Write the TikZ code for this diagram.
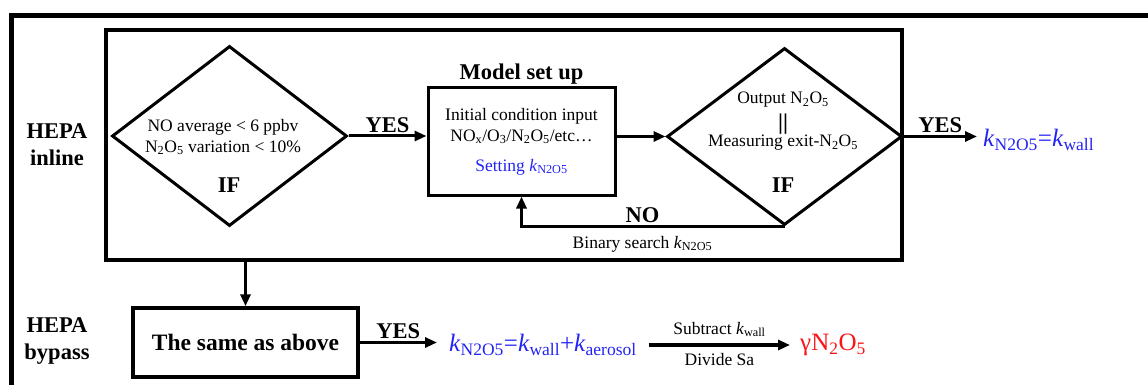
\documentclass[tikz,border=0pt]{standalone}
\usepackage{fontspec}
\setmainfont{Liberation Serif}
\usetikzlibrary{shapes.geometric, positioning, arrows.meta}
\definecolor{kblue}{RGB}{35,35,245}
\definecolor{gred}{RGB}{250,20,20}

\begin{document}
\begin{tikzpicture}[x=1pt, y=-1pt,
  every node/.style={inner sep=2pt},
  box/.style={draw, line width=3pt, inner sep=0pt},
  cond/.style={diamond, draw, line width=3pt, inner sep=0pt,
               minimum width=235pt, minimum height=180pt},
  txt/.style={font=\fontsize{17.5}{21}\selectfont, align=center},
  hd/.style={font=\fontsize{22.5}{27}\selectfont\bfseries, align=center},
  keq/.style={font=\fontsize{25}{30}\selectfont, text=kblue},
  arrow/.style={-{Triangle[length=12pt,width=10pt]}, line width=3pt}]
\useasboundingbox (0,0) rectangle (1148,385);
\draw[line width=5pt] (11,392) -- (11,16) -- (1156,16);
% HEPA inline
\node[box, line width=3.5pt, minimum width=796pt, minimum height=230pt]
  (inline) at (504,145) {};
\node[hd] (hinline) at (57,145) {HEPA\\inline};
\node[cond] (d1) at (229.5,136) {};
\node[txt] (d1txt) at (223,137)
  {NO average < 6 ppbv\\N\textsubscript{2}O\textsubscript{5} variation < 10\%};
\node[hd] (d1if) at (229,185) {IF};
\node[box, txt, minimum width=187pt, minimum height=107pt] (model)
  at (521.5,141.5)
  {Initial condition input\\NO\textsubscript{x}/O\textsubscript{3}/N\textsubscript{2}O\textsubscript{5}/etc…\\[9pt]
   \textcolor{kblue}{Setting \textit{k}\textsubscript{N2O5}}};
\node[hd, above=0pt of model] (setup) {Model set up};
\node[cond, minimum height=177pt] (d2) at (784.5,136.5) {};
\node[txt] (d2out) at (783,100) {Output N\textsubscript{2}O\textsubscript{5}};
\node[hd] (d2eq) at (783,124) {||};
\node[txt] (d2meas) at (783,143) {Measuring exit-N\textsubscript{2}O\textsubscript{5}};
\node[hd] (d2if) at (783,185) {IF};
\node[keq, anchor=west, inner xsep=6pt] (kwall) at (977,140)
  {\textit{k}\textsubscript{N2O5}=\textit{k}\textsubscript{wall}};
\draw[arrow] (d1.east) -- node[hd, above] (yes1) {YES} (d1.east -| model.west);
\draw[arrow] (model.east |- d2.west) -- (d2.west);
\draw[arrow] (d2.south) -| node[hd, pos=0.27, above] (no) {NO}
  node[txt, pos=0.27, below=6pt] (bsearch) {Binary search \textit{k}\textsubscript{N2O5}}
  (model.south);
\draw[arrow] (d2.east) -- node[hd, above] (yes2) {YES} (d2.east -| kwall.west);
% HEPA bypass
\node[hd] (hbypass) at (57,341) {HEPA\\bypass};
\node[box, line width=3.5pt, minimum width=225pt, minimum height=69pt,
      font=\fontsize{23.5}{28}\selectfont\bfseries] (bypass) at (245.5,342.5)
  {The same as above};
\draw[arrow] (bypass.north |- inline.south) -- (bypass.north);
\node[keq, anchor=west, inner xsep=12pt] (kbyp) at (437,345)
  {\textit{k}\textsubscript{N2O5}=\textit{k}\textsubscript{wall}+\textit{k}\textsubscript{aerosol}};
\draw[arrow] (bypass.east) -- node[hd, above] (yes3) {YES} (bypass.east -| kbyp.west);
\node[keq, text=gred, anchor=west, inner xsep=10pt] (gam) at (790,345)
  {γN\textsubscript{2}O\textsubscript{5}};
\draw[arrow, line width=4pt] (kbyp.east) --
  node[txt, above=4pt] (subtr) {Subtract \textit{k}\textsubscript{wall}}
  node[txt, below=4pt] (divsa) {Divide Sa} (gam.west);
\end{tikzpicture}
\end{document}
